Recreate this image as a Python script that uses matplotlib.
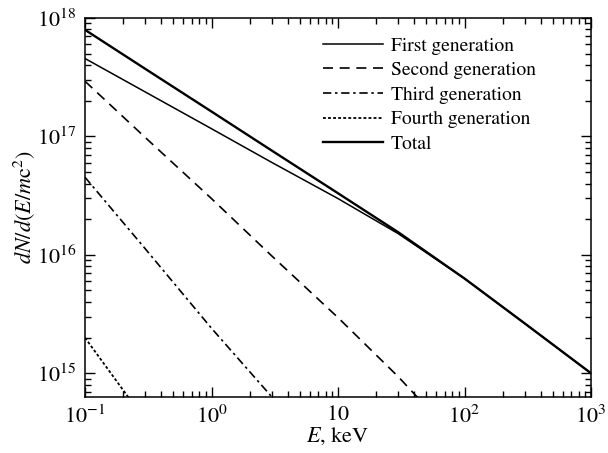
import matplotlib
matplotlib.use("Agg")
import matplotlib.pyplot as plt
from matplotlib.ticker import FixedLocator, FixedFormatter, LogLocator, NullFormatter
import numpy as np

plt.rcParams['font.family'] = ['STIXGeneral', 'DejaVu Serif']
plt.rcParams['mathtext.fontset'] = 'stix'

# Photon energy grid, keV
energy = [0.1, 0.3, 1, 3, 10, 30, 100, 300, 1000]

# log10 of dN/d(E/mc^2) for each generation and their total
log_first = [17.658, 17.375, 17.065, 16.78, 16.475, 16.178, 15.80, 15.42, 15.0]
log_second = [17.466, 16.99, 16.475, 15.99, 15.47, 14.97, 14.37, 13.8, 13.2]
log_third = [16.655, 16.05, 15.38, 14.80, 14.14, 13.5, 12.8, 12.2, 11.5]
log_fourth = [15.30, 14.60, 13.9, 13.2, 12.4, 11.7, 11.0, 10.3, 9.6]
log_total = [17.90, 17.57, 17.21, 16.88, 16.52, 16.19, 15.80, 15.42, 15.0]

series_labels = ["First generation", "Second generation", "Third generation",
                 "Fourth generation", "Total"]

x_ticks = [0.1, 1, 10, 100, 1000]
x_ticklabels = [r"$10^{-1}$", r"$10^{0}$", r"$10$", r"$10^{2}$", r"$10^{3}$"]
y_ticks = [1e15, 1e16, 1e17, 1e18]
y_ticklabels = [r"$10^{15}$", r"$10^{16}$", r"$10^{17}$", r"$10^{18}$"]

fig = plt.figure(figsize=(6.08, 4.53), dpi=100)
ax = fig.add_axes([85 / 608, 1 - 397 / 453, (591 - 85) / 608, (397 - 18) / 453])

E = np.array(energy)
styles = [
    dict(color="black", lw=1.1, ls="-"),
    dict(color="black", lw=1.2, ls=(0, (6, 4))),
    dict(color="black", lw=1.2, ls=(0, (5, 2.2, 1.5, 2.2))),
    dict(color="black", lw=1.3, ls=(0, (1.6, 1.2))),
    dict(color="black", lw=1.7, ls="-"),
]
for vals, lab, st in zip([log_first, log_second, log_third, log_fourth, log_total],
                         series_labels, styles):
    ax.plot(E, 10 ** np.array(vals), label=lab, **st)

ax.set_xscale("log")
ax.set_yscale("log")
ax.set_xlim(0.1, 1000)
ax.set_ylim(6.3e14, 1e18)

ax.xaxis.set_major_locator(FixedLocator(x_ticks))
ax.xaxis.set_major_formatter(FixedFormatter(x_ticklabels))
ax.yaxis.set_major_locator(FixedLocator(y_ticks))
ax.yaxis.set_major_formatter(FixedFormatter(y_ticklabels))
ax.xaxis.set_minor_locator(LogLocator(base=10, subs=np.arange(2, 10), numticks=20))
ax.yaxis.set_minor_locator(LogLocator(base=10, subs=np.arange(2, 10), numticks=20))
ax.xaxis.set_minor_formatter(NullFormatter())
ax.yaxis.set_minor_formatter(NullFormatter())

ax.tick_params(which="both", direction="in", top=True, right=True, width=1.0)
ax.tick_params(which="major", length=7, labelsize=16, pad=6)
ax.tick_params(which="minor", length=4)
for sp in ax.spines.values():
    sp.set_linewidth(1.1)

ax.set_xlabel(r"$E$, keV", fontsize=16, labelpad=-1)
ax.set_ylabel(r"$dN/d(E/m\mathrm{c}^2)$", fontsize=16, labelpad=0)

leg = ax.legend(loc="upper left", bbox_to_anchor=((323 - 85) / 506, 0.95),
                frameon=False, fontsize=14, handlelength=3.1,
                handletextpad=0.38, labelspacing=0.36, borderaxespad=0.0,
                borderpad=0.0)

fig.savefig("out.png", dpi=100)
